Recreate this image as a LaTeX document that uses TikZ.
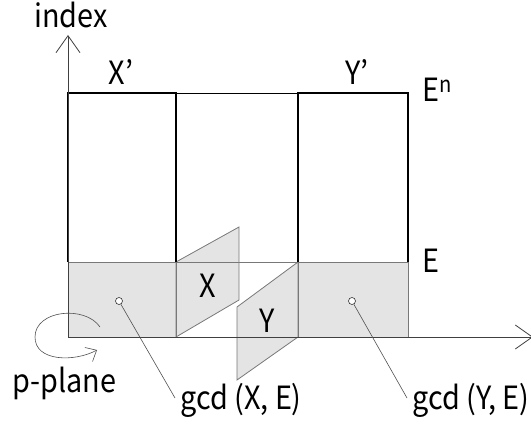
\documentclass[tikz,border=0pt]{standalone}
\usepackage{fontspec}
\setmainfont{Noto Sans CJK JP}[FakeStretch=0.9]
\usetikzlibrary{arrows.meta}
\definecolor{planebg}{RGB}{228,228,228}
\definecolor{planeborder}{RGB}{120,120,120}
\definecolor{leadercolor}{RGB}{80,80,80}
\tikzset{
  axisline/.style={
    line width=0.8pt, draw=black!75,
    -{Straight Barb[length=17pt,width=24pt,line width=0.8pt]}
  },
  boxline/.style={
    line width=1.4pt, draw=black
  },
  planeface/.style={
    fill=planebg, draw=planeborder, line width=0.8pt
  },
  leader/.style={
    draw=leadercolor, line width=0.6pt
  },
  dotmark/.style={
    circle, draw=black!80, fill=white, inner sep=0pt,
    minimum size=7pt, line width=0.6pt
  },
  lbl/.style={
    font=\fontsize{32}{35}\selectfont, inner sep=0pt, anchor=base
  }
}

\begin{document}
\begin{tikzpicture}[x=1pt, y=-1pt]
    \useasboundingbox (0,0) rectangle (531,425);

    % grey band on the p-plane
    \fill[planebg] (68,262) rectangle (176,337);
    \fill[planebg] (298,262) rectangle (408,337);

    % the planes X and Y
    \draw[planeface] (176,262) -- (239,227) -- (239,300) -- (176,337) -- cycle;
    \draw[planeface] (237,307) -- (298,262) -- (298,337) -- (237,380) -- cycle;

    \draw[planeborder, line width=0.8pt] (68,262) -- (408,262);
    \draw[planeborder, line width=0.8pt] (176,262) -- (176,337);
    \draw[planeborder, line width=0.8pt] (298,262) -- (298,337);
    \draw[planeborder, line width=0.8pt] (408,262) -- (408,337);

    % boxes X' and Y'
    \draw[boxline] (68,262) -- (68,93) -- (176,93) -- (176,262);
    \draw[boxline] (298,262) -- (298,93) -- (408,93) -- (408,262);
    \draw[line width=0.6pt] (176,93) -- (298,93);

    % axes
    \coordinate (origin) at (68,337);
    \coordinate (ytip) at (68,35);
    \coordinate (xtip) at (533,337);
    \draw[axisline] (origin) -- (ytip);
    \draw[axisline] (origin) -- (xtip);

    % rotation of the p-plane
    \draw[leader, -{Straight Barb[length=9pt,width=16pt,line width=0.6pt]}]
      (100,327) .. controls (85,305) and (35,310) .. (35,337)
      .. controls (35,362) and (75,362) .. (97,350);

    % labels
    \node[lbl] (index) at (71,28) {index};
    \node[lbl] (xprime) at (121,85) {X’};
    \node[lbl] (yprime) at (357,85) {Y’};
    \node[lbl, anchor=base west] (en) at (422,102) {E\textsuperscript{n}};
    \node[lbl, anchor=base west] (e) at (422,273) {E};
    \node[lbl] (xlab) at (208,298) {X};
    \node[lbl] (ylab) at (267,333) {Y};
    \node[lbl, anchor=base west] (pplane) at (12,392) {p-plane};
    \node[lbl, anchor=base west] (gcdx) at (180,409) {gcd (X, E)};
    \node[lbl, anchor=base west] (gcdy) at (412,409) {gcd (Y, E)};

    % leader lines to the gcd labels
    \node[dotmark] (dotx) at (119,301) {};
    \node[dotmark] (doty) at (352,301) {};
    \coordinate (gcdxend) at (175,398);
    \coordinate (gcdyend) at (407,398);
    \draw[leader] (dotx) -- (gcdxend);
    \draw[leader] (doty) -- (gcdyend);

\end{tikzpicture}
\end{document}
